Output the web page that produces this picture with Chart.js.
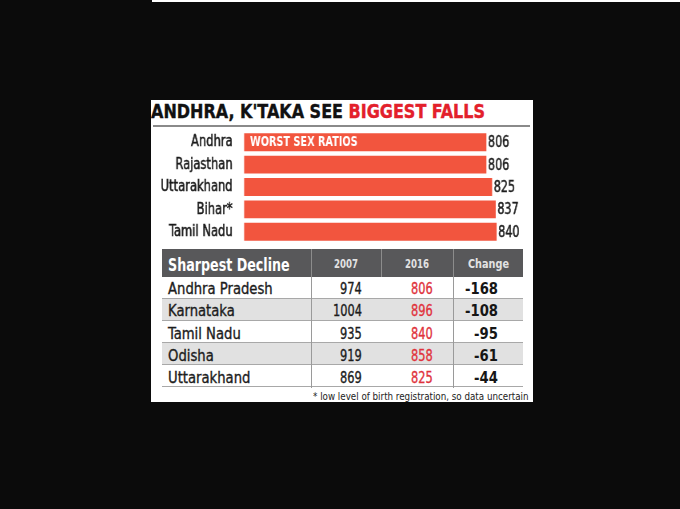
<!DOCTYPE html>
<html><head><meta charset="utf-8">
<script src="https://cdn.jsdelivr.net/npm/chart.js@4.4.1/dist/chart.umd.min.js"></script>
<style>
html,body{margin:0;padding:0;background:#0b0b0b;width:680px;height:509px;overflow:hidden;position:relative;}
.abs{position:absolute;white-space:nowrap;}
.med{-webkit-text-stroke:0.35px currentColor;}
</style></head>
<body>
<div class="abs" style="left:152px;top:0;width:528px;height:2px;background:#fff;"></div>
<div id="panel" class="abs" style="left:151px;top:100px;width:382px;height:302px;background:#fff;overflow:hidden;"></div>
<div id="layer" class="abs" style="left:0;top:0;width:680px;height:509px;"></div>
<script>
// ---- data ----
const titleBlack = "ANDHRA, K'TAKA SEE ";
const titleRed = "BIGGEST FALLS";
const barStates = ['Andhra', 'Rajasthan', 'Uttarakhand', 'Bihar*', 'Tamil Nadu'];
const barValues = [806, 806, 825, 837, 840];
const barNote = 'WORST SEX RATIOS';
const tableHeaders = ['Sharpest Decline', '2007', '2016', 'Change'];
const tableStates = ['Andhra Pradesh', 'Karnataka', 'Tamil Nadu', 'Odisha', 'Uttarakhand'];
const ratio2007 = [974, 1004, 935, 919, 869];
const ratio2016 = [806, 896, 840, 858, 825];
const changeVals = [-168, -108, -95, -61, -44];
const footnote = '* low level of birth registration, so data uncertain';

const NARROW = "'DejaVu Sans Condensed','Liberation Sans Narrow','Arial Narrow',sans-serif";
const layer = document.getElementById('layer');
const mctx = document.createElement('canvas').getContext('2d');
function measure(s, font){ mctx.font = font; return mctx.measureText(s).width; }

function box(x, y, w, h, bg){
  const d = document.createElement('div'); d.className = 'abs';
  Object.assign(d.style, {left:x+'px', top:y+'px', width:w+'px', height:h+'px', background:bg});
  layer.appendChild(d); return d;
}
function txt(parts, x, cy, anchor, font, k, cls){
  const d = document.createElement('div'); d.className = 'abs' + (cls ? ' ' + cls : '');
  d.style.font = font; d.style.lineHeight = '20px'; d.style.top = (cy - 10) + 'px';
  let plain = '';
  parts.forEach(([s, c]) => { const sp = document.createElement('span'); sp.textContent = s; sp.style.color = c; d.appendChild(sp); plain += s; });
  const w = measure(plain, font) * k;
  const left = anchor === 'left' ? x : anchor === 'right' ? x - w : x - w / 2;
  d.style.left = left + 'px';
  d.style.transformOrigin = 'left center';
  d.style.transform = 'scaleX(' + k + ')';
  layer.appendChild(d); return d;
}

// ---- title ----
const tFont = 'bold 19px ' + NARROW;
txt([[titleBlack, '#111'], [titleRed, '#e3202b']], 151, 111.3, 'left', tFont, 334 / measure(titleBlack + titleRed, tFont), 'med');
box(153, 125, 377, 2, '#8a8a8a');

// ---- table ----
const tLeft = 162, tRight = 523, hTop = 249, hH = 28, rowTop = 277, rowH = 22;
const colEdges = [162, 311, 381, 453, 523];
box(tLeft, hTop, tRight - tLeft, hH, '#58585a');
const hF0 = 'bold 17px ' + NARROW, hF = 'bold 12.5px ' + NARROW;
txt([[tableHeaders[0], '#ffffff']], 168.3, 264.5, 'left', hF0, 121.7 / measure(tableHeaders[0], hF0));
const hk = 24 / measure(tableHeaders[1], hF);
[1, 2, 3].forEach(i => {
  const cx = (colEdges[i] + colEdges[i + 1]) / 2;
  txt([[tableHeaders[i], '#e2e2e2']], cx, 264, 'center', hF, i === 3 ? 41 / measure(tableHeaders[3], hF) : hk);
});
[311, 381, 453].forEach(x => box(x, hTop, 1, hH, '#8c8c8c'));

const nF = '16px ' + NARROW, vF = '16px ' + NARROW, cF = 'bold 16px ' + NARROW;
const nk = 104.7 / measure(tableStates[0], nF);
const vk = 21.7 / measure(String(ratio2007[0]), vF);
const ck = 33 / measure(String(changeVals[0]), cF);
tableStates.forEach((s, r) => {
  const top = rowTop + r * rowH;
  box(tLeft, top, tRight - tLeft, rowH - 1, r % 2 ? '#e1e1e1' : '#ffffff');
  box(tLeft, top + rowH - 1, tRight - tLeft, 1, '#a8a8a8');
  const cy = 289.2 + r * 22.2;
  txt([[s, '#1c1c1c']], 168, cy, 'left', nF, nk, 'med');
  txt([[String(ratio2007[r]), '#1c1c1c']], 361.7, cy, 'right', vF, vk, 'med');
  txt([[String(ratio2016[r]), '#e0323c']], 432.7, cy, 'right', vF, vk, 'med');
  txt([[String(changeVals[r]), '#161616']], 498, cy, 'right', cF, ck);
});
[311, 453].forEach(x => box(x, rowTop, 1, 111, '#9a9a9a'));
const fF = '10px ' + NARROW;
txt([[footnote, '#222']], 528.5, 397, 'right', fF, 215.5 / measure(footnote, fF));

// ---- bar chart (canvas drawn wide, then squeezed horizontally to a narrow look) ----
const SQ = 0.8;
const wrap = document.createElement('div'); wrap.className = 'abs';
Object.assign(wrap.style, {left:'151px', top:'128px', transformOrigin:'0 0', transform:'scaleX(' + SQ + ')'});
const cv = document.createElement('canvas'); cv.width = 478; cv.height = 116;
wrap.appendChild(cv); layer.appendChild(wrap);

const labelPlugin = {
  id: 'labels',
  afterDatasetsDraw(chart){
    const ctx = chart.ctx;
    const meta = chart.getDatasetMeta(0);
    ctx.save();
    ctx.textBaseline = 'middle';
    ctx.textAlign = 'left';
    meta.data.forEach((bar, i) => {
      ctx.fillStyle = '#1e1e1e'; ctx.strokeStyle = '#1e1e1e'; ctx.lineWidth = 0.5;
      ctx.font = '15.5px ' + NARROW;
      ctx.fillText(String(barValues[i]), bar.x + 2, bar.y + 1);
      ctx.strokeText(String(barValues[i]), bar.x + 2, bar.y + 1);
    });
    const b0 = meta.data[0];
    ctx.fillStyle = '#ffffff';
    ctx.font = 'bold 13.5px ' + NARROW;
    ctx.fillText(barNote, b0.base + 7.5, b0.y + 0.5, 141);
    ctx.restore();
  }
};
new Chart(cv, {
  type: 'bar',
  data: {labels: barStates, datasets: [{data: barValues, backgroundColor: '#f2553e', borderWidth: 0, barPercentage: 0.8, categoryPercentage: 1}]},
  options: {
    indexAxis: 'y', responsive: false, animation: false, devicePixelRatio: 1,
    layout: {padding: {left: 0, right: 23.4, top: 3, bottom: 1}},
    plugins: {legend: {display: false}, tooltip: {enabled: false}, title: {display: false}},
    scales: {
      x: {display: false, min: 0, max: 900},
      y: {grid: {display: false}, border: {display: false},
          ticks: {padding: 6.25, color: '#1a1a1a', textStrokeColor: '#1a1a1a', textStrokeWidth: 0.5, font: {family: NARROW, size: 16}},
          afterFit(s){ s.width = 116.25; s.paddingTop = 0; s.paddingBottom = 0; }}
    }
  },
  plugins: [labelPlugin]
});
</script>
</body></html>
